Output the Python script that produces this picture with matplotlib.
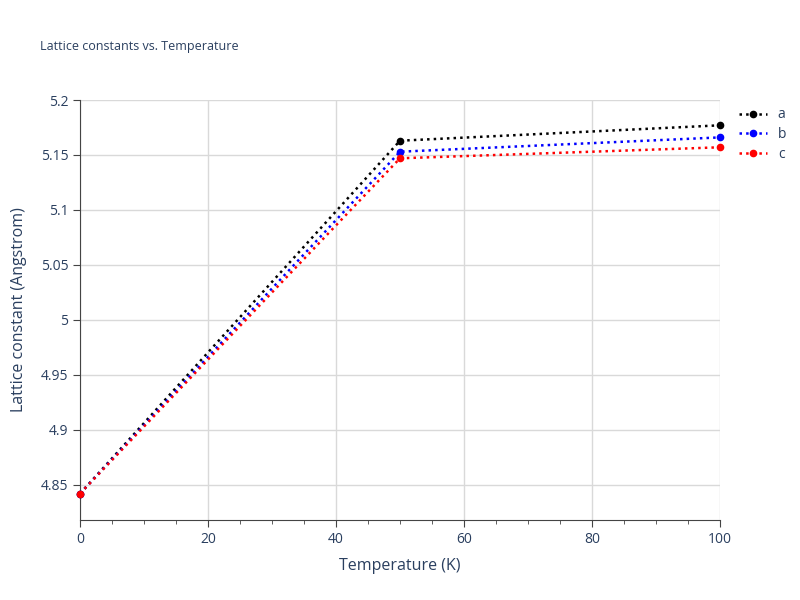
import matplotlib.pyplot as plt
from matplotlib.ticker import MultipleLocator

temperature = [0, 50, 100]
lat_a = [4.842, 5.163, 5.177]
lat_b = [4.842, 5.153, 5.166]
lat_c = [4.842, 5.147, 5.157]

series = [("a", lat_a, "black"), ("b", lat_b, "blue"), ("c", lat_c, "red")]
text_col = "#2a3f5f"

plt.rcParams["font.family"] = ["Open Sans", "DejaVu Sans"]

fig = plt.figure(figsize=(8, 6), dpi=100)
ax = fig.add_axes([0.1, 0.1333, 0.8, 0.7])

for name, vals, col in series:
    ax.plot(temperature, vals, linestyle=":", linewidth=1.8, color=col,
            marker="o", markersize=4.5, label=name, clip_on=False, zorder=3)

ax.set_xlim(0, 100)
ax.set_ylim(4.818, 5.2)
ax.set_xticks([0, 20, 40, 60, 80, 100])
ax.xaxis.set_minor_locator(MultipleLocator(5))
ax.set_yticks([4.85, 4.9, 4.95, 5.0, 5.05, 5.1, 5.15, 5.2])
ax.set_yticklabels(["4.85", "4.9", "4.95", "5", "5.05", "5.1", "5.15", "5.2"])
ax.grid(True, color="#d9d9d9", linewidth=1)
ax.set_axisbelow(True)

for side in ["top", "right"]:
    ax.spines[side].set_visible(False)
ax.spines["left"].set_color("#444444")
ax.spines["bottom"].set_color("#444444")
ax.tick_params(which="major", length=5, color="#444444", labelcolor=text_col, labelsize=10)
ax.tick_params(which="minor", length=3, color="#444444")

ax.set_xlabel("Temperature (K)", color=text_col, fontsize=11.5, labelpad=8)
ax.set_ylabel("Lattice constant (Angstrom)", color=text_col, fontsize=11.5, labelpad=10)
fig.text(0.05, 0.917, "Lattice constants vs. Temperature", color=text_col, fontsize=9)

ax.legend(loc="upper left", bbox_to_anchor=(1.01, 1.012), frameon=False,
          labelcolor=text_col, fontsize=10, handlelength=2, labelspacing=0.35)

fig.savefig("out.png")
